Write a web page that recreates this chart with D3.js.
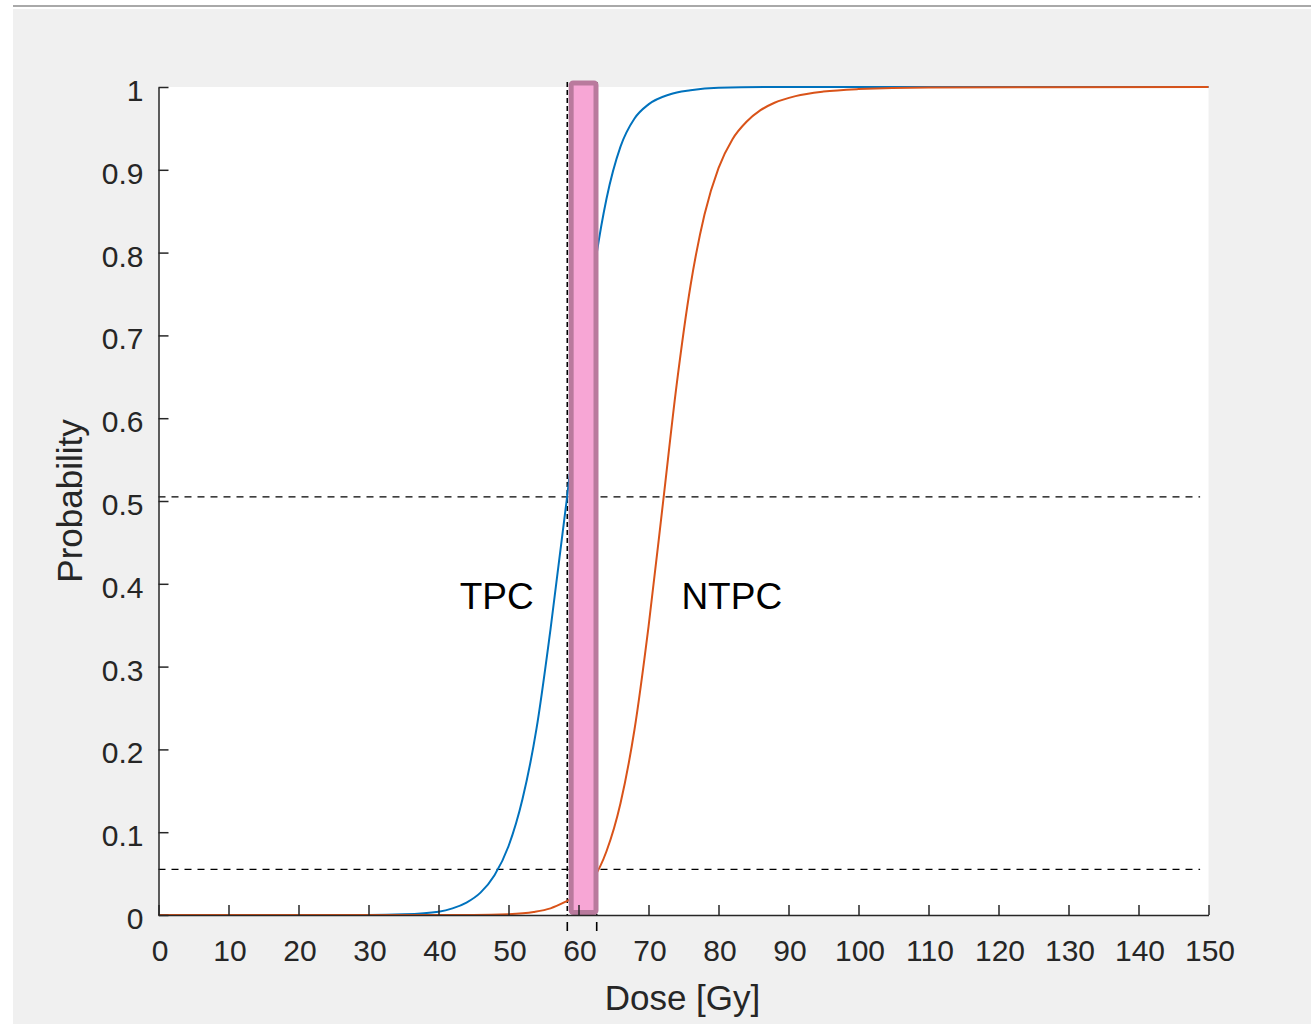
<!DOCTYPE html>
<html>
<head>
<meta charset="utf-8">
<script src="https://cdn.jsdelivr.net/npm/d3@7"></script>
<style>
  html, body { margin: 0; padding: 0; background: #fff; }
  svg { display: block; font-family: "Liberation Sans", Arial, Helvetica, sans-serif; }
</style>
</head>
<body>
<div id="chart"></div>
<script>
// dose / probability readings
var tpcDose = [0, 30, 35, 40, 42, 44, 46, 48, 50, 52, 54, 56, 58.3, 60, 62, 64, 66, 68, 70, 73, 76, 80, 90, 150];
var tpcProb = [0, 0, 0.0008, 0.004, 0.008, 0.015, 0.027, 0.048, 0.083, 0.14, 0.225, 0.345, 0.5, 0.625, 0.765, 0.865, 0.928, 0.962, 0.979, 0.991, 0.996, 0.999, 1, 1];

var ntpcDose = [0, 45, 50, 53.6, 56, 58.4, 60, 62, 64, 66, 68, 70, 72.1, 74, 76, 78, 80, 82, 84, 86, 88, 91, 95, 100, 110, 150];
var ntpcProb = [0, 0, 0.001, 0.0037, 0.008, 0.017, 0.024, 0.042, 0.077, 0.135, 0.224, 0.348, 0.5, 0.639, 0.76, 0.846, 0.902, 0.937, 0.958, 0.972, 0.981, 0.989, 0.9945, 0.9975, 0.9995, 1];

// therapeutic window and the probability levels at its edges
var windowDose = [58.4, 62.6];
var barDose = [58.95, 62.5];
var levelProb = [0.505, 0.055];

var xTicks = [0, 10, 20, 30, 40, 50, 60, 70, 80, 90, 100, 110, 120, 130, 140, 150];
var yTicks = [0, 0.1, 0.2, 0.3, 0.4, 0.5, 0.6, 0.7, 0.8, 0.9, 1];

var curveNames = ["TPC", "NTPC"];
var curveColors = ["#0072BD", "#D95319"];

var W = 1311, H = 1024;

var svg = d3.select("#chart").append("svg")
  .attr("width", W)
  .attr("height", H);

// figure background
svg.append("rect").attr("x", 13).attr("y", 9).attr("width", W - 13).attr("height", H - 9).attr("fill", "#f0f0f0");
svg.append("line").attr("x1", 13).attr("x2", W).attr("y1", 6).attr("y2", 6)
  .attr("stroke", "#a9a9a9").attr("stroke-width", 2);

var x = d3.scaleLinear().domain([0, 150]).range([158.5, 1208.5]);
var y = d3.scaleLinear().domain([0, 1]).range([915, 87]);

// white axes area
svg.append("rect")
  .attr("x", x(0)).attr("y", y(1))
  .attr("width", x(150) - x(0)).attr("height", y(0) - y(1))
  .attr("fill", "#fff");

// horizontal dashed levels
svg.selectAll(".level")
  .data(levelProb)
  .enter().append("line")
  .attr("class", "level")
  .attr("x1", x(0)).attr("x2", x(148.8))
  .attr("y1", function (d) { return y(d); })
  .attr("y2", function (d) { return y(d); })
  .attr("stroke", "#000").attr("stroke-width", 1.3)
  .attr("stroke-dasharray", "7,6");

// vertical dashed window edges
svg.selectAll(".edge")
  .data(windowDose)
  .enter().append("line")
  .attr("class", "edge")
  .attr("x1", function (d) { return x(d); })
  .attr("x2", function (d) { return x(d); })
  .attr("y1", y(1) - 5).attr("y2", y(0))
  .attr("stroke", "#000").attr("stroke-width", 1.6)
  .attr("stroke-dasharray", "5,3");

svg.selectAll(".edgeTick")
  .data(windowDose)
  .enter().append("line")
  .attr("class", "edgeTick")
  .attr("x1", function (d) { return x(d); })
  .attr("x2", function (d) { return x(d); })
  .attr("y1", y(0) + 7).attr("y2", y(0) + 16)
  .attr("stroke", "#000").attr("stroke-width", 1.6);

// curves
var series = [d3.zip(tpcDose, tpcProb), d3.zip(ntpcDose, ntpcProb)];

var line = d3.line()
  .x(function (d) { return x(d[0]); })
  .y(function (d) { return y(d[1]); })
  .curve(d3.curveMonotoneX);

svg.selectAll(".curve")
  .data(series)
  .enter().append("path")
  .attr("class", "curve")
  .attr("d", line)
  .attr("fill", "none")
  .attr("stroke", function (d, i) { return curveColors[i]; })
  .attr("stroke-width", 2);

// pink window bar
svg.append("rect")
  .attr("x", x(barDose[0]))
  .attr("y", y(1) - 4)
  .attr("width", x(barDose[1]) - x(barDose[0]))
  .attr("height", (y(0) - 2.5) - (y(1) - 4))
  .attr("rx", 2)
  .attr("fill", "#f7a6d5")
  .attr("stroke", "#b97a9d")
  .attr("stroke-width", 5);

// axes
var axisColor = "#262626";

var xAxis = svg.append("g")
  .attr("transform", "translate(0," + y(0) + ")")
  .call(d3.axisBottom(x).tickValues(xTicks).tickSize(-10).tickSizeOuter(0).tickPadding(0).tickFormat(d3.format("d")));

var yAxis = svg.append("g")
  .attr("transform", "translate(" + x(0) + ",0)")
  .call(d3.axisLeft(y).tickValues(yTicks).tickSize(-10).tickSizeOuter(0).tickPadding(0).tickFormat(d3.format("")));

[xAxis, yAxis].forEach(function (g) {
  g.select(".domain").attr("stroke", axisColor).attr("stroke-width", 1.5);
  g.selectAll(".tick line").attr("stroke", axisColor).attr("stroke-width", 1.5);
  g.selectAll(".tick text")
    .attr("fill", axisColor)
    .style("font-size", "30px")
    .style("font-family", "'Liberation Sans', Arial, sans-serif");
});

xAxis.selectAll(".tick text").attr("y", 25).attr("dy", "0.71em").attr("dx", 1);
yAxis.selectAll(".tick text").attr("x", -15).attr("dy", "0.45em");

// axis titles
svg.append("text")
  .attr("x", x(75) - 1)
  .attr("y", 1010)
  .attr("text-anchor", "middle")
  .attr("fill", axisColor)
  .style("font-size", "35px")
  .text("Dose [Gy]");

svg.append("text")
  .attr("transform", "translate(82," + y(0.5) + ") rotate(-90)")
  .attr("text-anchor", "middle")
  .attr("fill", axisColor)
  .style("font-size", "35px")
  .text("Probability");

// curve labels
var labelDose = [53.6, 74.7];
var labelProb = [0.37, 0.37];
var labelAnchor = ["end", "start"];

svg.selectAll(".curveLabel")
  .data(curveNames)
  .enter().append("text")
  .attr("class", "curveLabel")
  .attr("x", function (d, i) { return x(labelDose[i]); })
  .attr("y", function (d, i) { return y(labelProb[i]); })
  .attr("text-anchor", function (d, i) { return labelAnchor[i]; })
  .attr("fill", "#000")
  .style("font-size", "37px")
  .text(function (d) { return d; });
</script>
</body>
</html>
